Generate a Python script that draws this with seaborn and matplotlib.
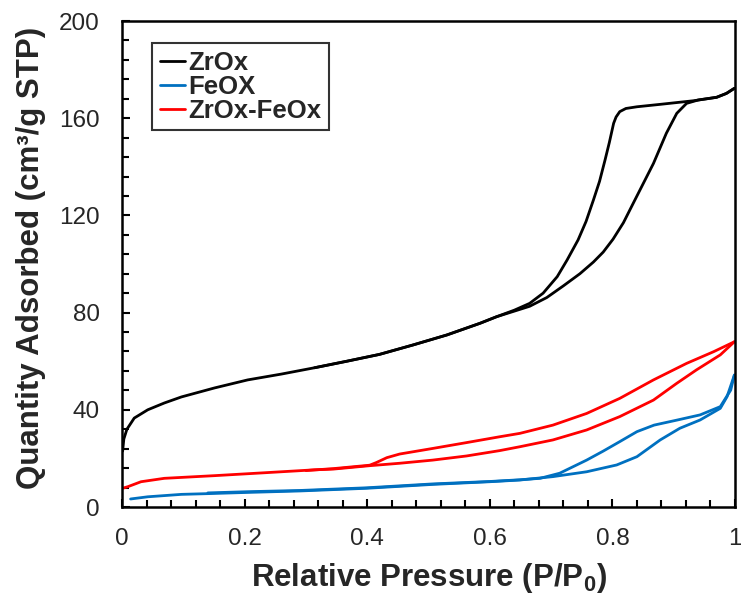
import matplotlib
matplotlib.use("Agg")
import matplotlib.pyplot as plt
import seaborn as sns
import numpy as np
import pandas as pd
from matplotlib.ticker import MultipleLocator, FixedLocator

# ---------------- data ----------------
zr_ads_x = [0.001, 0.003, 0.008, 0.02, 0.042, 0.069, 0.097, 0.151, 0.205, 0.26, 0.314, 0.367,
            0.42, 0.475, 0.53, 0.584, 0.611, 0.640, 0.665, 0.693, 0.72, 0.747, 0.769, 0.785,
            0.801, 0.818, 0.834, 0.867, 0.888, 0.905, 0.921, 0.94, 0.97, 0.986, 0.999]
zr_ads_y = [23.0, 28.0, 32.0, 36.6, 40.0, 42.8, 45.3, 49.0, 52.3, 54.7, 57.3, 60.0,
            62.8, 66.7, 70.8, 75.6, 78.3, 80.6, 82.6, 86.2, 91.0, 96.0, 100.8, 104.9,
            110.2, 117.0, 125.0, 141.4, 153.8, 162.0, 166.1, 167.5, 168.6, 170.2, 172.3]
zr_des_x = [0.999, 0.986, 0.97, 0.933, 0.878, 0.84, 0.822, 0.812, 0.806, 0.802, 0.795, 0.788,
            0.779, 0.769, 0.757, 0.744, 0.726, 0.71, 0.687, 0.665, 0.640, 0.611, 0.584, 0.53,
            0.475, 0.42, 0.367, 0.314]
zr_des_y = [172.3, 170.2, 168.6, 167.2, 165.7, 164.7, 164.0, 162.7, 160.5, 157.9, 150.0, 142.8,
            134.0, 126.3, 117.5, 109.9, 101.6, 94.8, 88.0, 83.8, 81.0, 78.3, 75.6, 70.8,
            66.7, 62.8, 60.0, 57.3]

fe_ads_x = [0.014, 0.042, 0.097, 0.14, 0.205, 0.29, 0.399, 0.507, 0.60, 0.649, 0.703, 0.758,
            0.807, 0.84, 0.878, 0.91, 0.943, 0.976, 0.987, 0.999]
fe_ads_y = [3.3, 4.2, 5.2, 5.5, 6.0, 6.6, 7.7, 9.3, 10.4, 11.1, 12.5, 14.5,
            17.3, 20.7, 27.6, 32.4, 35.8, 40.6, 45.4, 54.3]
fe_des_x = [0.999, 0.993, 0.976, 0.943, 0.906, 0.868, 0.84, 0.812, 0.785, 0.758, 0.714, 0.682,
            0.649, 0.60, 0.507, 0.399, 0.29, 0.205, 0.14]
fe_des_y = [54.3, 48.1, 41.3, 37.9, 35.8, 33.7, 31.0, 26.9, 23.0, 19.3, 13.9, 11.8,
            11.2, 10.5, 9.5, 7.9, 6.8, 6.3, 5.8]

zf_ads_x = [0.001, 0.01, 0.031, 0.069, 0.151, 0.233, 0.314, 0.345, 0.404, 0.453, 0.507, 0.562,
            0.616, 0.649, 0.703, 0.758, 0.812, 0.867, 0.905, 0.937, 0.976, 0.999]
zf_ads_y = [7.7, 8.4, 10.4, 11.8, 12.9, 14.1, 15.3, 15.6, 17.0, 18.0, 19.3, 21.0,
            23.2, 24.8, 27.6, 31.7, 37.2, 44.0, 50.9, 56.4, 62.6, 68.0]
zf_des_x = [0.999, 0.965, 0.921, 0.867, 0.812, 0.758, 0.703, 0.649, 0.616, 0.562, 0.507, 0.453,
            0.432, 0.415, 0.404, 0.345, 0.30]
zf_des_y = [68.0, 63.9, 59.1, 52.3, 44.7, 38.5, 33.7, 30.3, 28.9, 26.5, 24.1, 21.8,
            20.3, 18.3, 17.2, 15.8, 15.0]

series_names = ["ZrOx", "FeOX", "ZrOx-FeOx"]
series_colors = ["#000000", "#0070C0", "#FF0000"]
x_ticks = [0, 0.2, 0.4, 0.6, 0.8, 1.0]
x_tick_labels = ["0", "0.2", "0.4", "0.6", "0.8", "1"]
y_ticks = [0, 40, 80, 120, 160, 200]
y_tick_labels = ["0", "40", "80", "120", "160", "200"]

# ---------------- style ----------------
sns.set_style("ticks")
plt.rcParams["font.family"] = ["Liberation Sans", "DejaVu Sans"]
plt.rcParams["mathtext.fontset"] = "custom"
plt.rcParams["mathtext.rm"] = "Liberation Sans:bold"
plt.rcParams["mathtext.it"] = "Liberation Sans:bold"
plt.rcParams["mathtext.bf"] = "Liberation Sans:bold"

fig = plt.figure(figsize=(7.41, 6.01), dpi=100)
ax = fig.add_axes([122 / 741, 1 - 507 / 601, 613 / 741, 486 / 601])

branches = [
    (zr_ads_x, zr_ads_y, zr_des_x, zr_des_y),
    (fe_ads_x, fe_ads_y, fe_des_x, fe_des_y),
    (zf_ads_x, zf_ads_y, zf_des_x, zf_des_y),
]
handles = []
for name, color, (ax_x, ax_y, dx, dy) in zip(series_names, series_colors, branches):
    df_a = pd.DataFrame({"p": ax_x, "q": ax_y})
    df_d = pd.DataFrame({"p": dx, "q": dy})
    sns.lineplot(data=df_a, x="p", y="q", sort=False, estimator=None, color=color,
                 linewidth=2.0, ax=ax)
    sns.lineplot(data=df_d, x="p", y="q", sort=False, estimator=None, color=color,
                 linewidth=2.0, ax=ax)
    handles.append(plt.Line2D([], [], color=color, linewidth=2.0, label=name))

ax.set_xlim(0, 1)
ax.set_ylim(0, 200)
ax.xaxis.set_major_locator(FixedLocator(x_ticks))
ax.set_xticklabels(x_tick_labels)
ax.yaxis.set_major_locator(FixedLocator(y_ticks))
ax.set_yticklabels(y_tick_labels)
ax.xaxis.set_minor_locator(MultipleLocator(0.04))
ax.yaxis.set_minor_locator(MultipleLocator(8))
ax.tick_params(axis="both", which="both", direction="in", top=False, right=False,
               width=1.5, color="black")
ax.tick_params(axis="both", which="major", length=6, labelsize=17.5)
ax.tick_params(axis="both", which="minor", length=5)
ax.tick_params(axis="x", which="major", pad=15)
ax.tick_params(axis="y", which="major", pad=16)
for sp in ax.spines.values():
    sp.set_linewidth(1.8)
    sp.set_color("black")

ax.set_xlabel(r"Relative Pressure (P/P$_\mathregular{0}$)", fontsize=22.5, fontweight="bold")
ax.set_ylabel("Quantity Adsorbed (cm³/g STP)", fontsize=22.5, fontweight="bold")
ax.xaxis.set_label_coords(0.5, -0.112)
ax.yaxis.set_label_coords(-0.124, 0.513)

leg = ax.legend(handles=handles, loc="upper left", bbox_to_anchor=(152 / 741, 1 - 43 / 601),
                bbox_transform=fig.transFigure, frameon=True, fancybox=False,
                edgecolor="black", fontsize=18.5, handlelength=1.0, handletextpad=0.1,
                labelspacing=0.0, borderpad=0.3, borderaxespad=0)
leg.get_frame().set_linewidth(1.5)
for t in leg.get_texts():
    t.set_fontweight("bold")

fig.savefig("out.png", dpi=100)
